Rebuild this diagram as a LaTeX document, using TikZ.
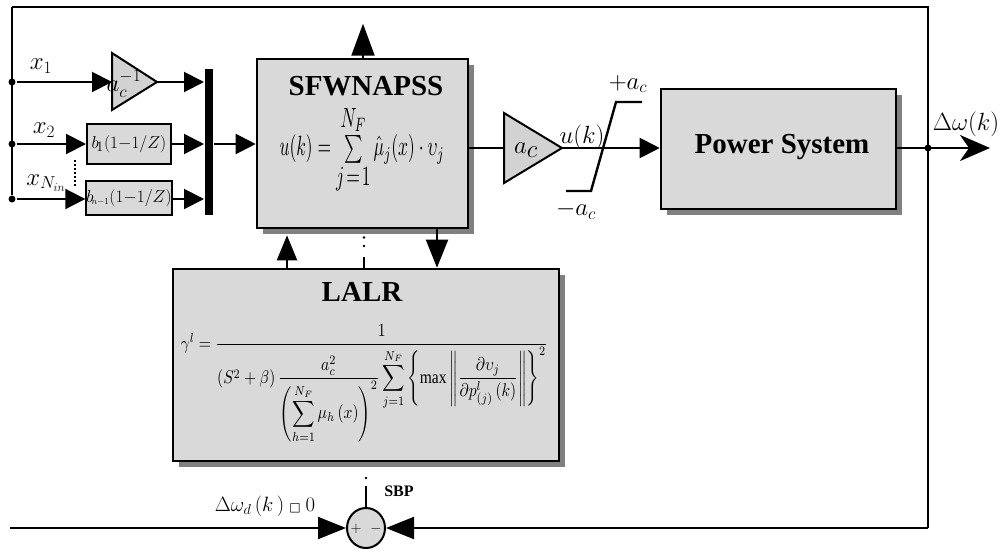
\documentclass[tikz,border=0pt]{standalone}
\usepackage{amsmath}
\usepackage{fontspec}
\setmainfont{Liberation Serif}
\newfontfamily\dvs{DejaVu Sans}
\usetikzlibrary{arrows.meta,shapes.geometric,shadows}
\definecolor{boxgray}{RGB}{217,217,217}
\definecolor{shadowgray}{RGB}{128,128,128}
\definecolor{trigray}{RGB}{210,210,210}
\begin{document}
\begin{tikzpicture}[x=1pt,y=-1pt,line width=2pt,
  box/.style={draw=black,line width=2.6pt,fill=boxgray,inner sep=0pt,
    drop shadow={shadow xshift=6pt,shadow yshift=-6pt,fill=shadowgray,opacity=1}},
  smallbox/.style={draw=black,line width=2pt,fill=boxgray,inner sep=0pt,minimum width=84pt},
  ttl/.style={font=\fontsize{29}{30}\selectfont\bfseries,inner sep=0pt},
  lbl/.style={font=\fontsize{24}{26}\selectfont,inner sep=0pt},
  arrA/.style={-{Triangle[length=20pt,width=20pt]}},
  arrB/.style={-{Triangle[length=28pt,width=22pt]}},
  dot/.style={circle,fill=black,inner sep=0pt,minimum size=7pt}]
\useasboundingbox (0,0) rectangle (1008,549);

% main blocks
\node[box,minimum width=211pt,minimum height=169pt] (sf) at (362.5,143.5) {};
\node[ttl] (sft) at (366,86) {SFWNAPSS};
\node[inner sep=0pt] (sfe) at (362,150) {\resizebox*{165pt}{88pt}{$u(k) = \mathop{\textstyle\sum}\limits^{\textstyle N_F}_{\textstyle j\!=\!1}\hat{\mu}_{j}(x)\cdot\upsilon_{j}$}};

\node[box,minimum width=235pt,minimum height=120pt] (ps) at (778.5,149) {};
\node[ttl] (pst) at (782,147) {Power System};

\node[box,minimum width=386pt,minimum height=192pt] (la) at (366,365) {};
\node[ttl] (lat) at (362,292) {LALR};
\node[inner sep=0pt] (lae) at (364.5,384) {\resizebox*{367pt}{118pt}{$\gamma^{l} = \dfrac{1}{\left(S^{2}+\beta\right)\dfrac{a_c^{2}}{\left(\displaystyle\sum_{h=1}^{N_F}\mu_h\left(x\right)\right)^{2}}\displaystyle\sum_{j=1}^{N_F}\left\{\max\left\|\dfrac{\partial\upsilon_j}{\partial p^{l}_{(j)}\left(k\right)}\right\|\right\}^{2}}$}};

% input blocks
\node[smallbox,minimum height=40pt] (b1) at (129,144) {\fontsize{19}{20}\selectfont$b_{\!1}(1{-}1/Z)$};
\node[smallbox,minimum height=34pt] (bn) at (129,198) {\fontsize{18}{19}\selectfont$b_{\!\scriptscriptstyle n{-}1}(1{-}1/Z)$};
\node[fill=black,minimum width=8pt,minimum height=146pt,inner sep=0pt] (bar) at (209,142) {};

% amplifier 1/a_c
\draw[fill=trigray] (112,53) coordinate (t1l) -- (112,110) -- (157,82) coordinate (t1r) -- cycle;
\coordinate (t1in) at (112,82);
\node[lbl] (t1lab) at (124,84) {$a_c^{-1}$};

% amplifier a_c
\draw[fill=trigray] (504,113) -- (504,183) -- (562,148) coordinate (t2r) -- cycle;
\coordinate (t2in) at (504,148);
\node[font=\fontsize{36}{38}\selectfont,inner sep=0pt] (t2lab) at (526,150) {$a_c$};

% input dots
\node[dot] (d1) at (12,82) {};
\node[dot] (d2) at (12,144) {};
\node[dot] (d3) at (12,199) {};
\coordinate (tl) at (12,7);
\coordinate (tr) at (928,7);
\coordinate (br) at (928,528);
\node[dot] (dout) at (928,148) {};
\coordinate (outend) at (990,148);

\draw (tl) -- (d3);
\draw (tl) -- (tr) -- (br);
\draw[arrA] (d1) -- (t1in);
\draw[arrA] (d2) -- (b1.west);
\draw[arrA] (d3) -- (bn.west |- d3);
\draw[arrA] (t1r) -- (bar.west |- t1r);
\draw[arrA] (b1.east) -- (bar.west |- b1.east);
\draw[arrA] (bn.east |- d3) -- (bar.west |- d3);
\draw[arrA] (bar.east |- b1) -- (sf.west |- b1);
\draw[dotted,line width=2pt] (75,160) -- (75,187);

\node[lbl] (lx1) at (41,66) {$x_1$};
\node[lbl] (lx2) at (44,130) {$x_2$};
\node[lbl] (lx3) at (46,183) {$x_{N_{in}}$};

% output side
\draw (sf.east |- t2in) -- (t2in);
\coordinate (psin) at (ps.west |- t2r);
\draw[arrA] (t2r) -- (psin);
\draw[line width=2.4pt] (566,191) -- (591,191) -- (616,102) -- (642,102);
\node[lbl] (luk) at (582,137) {$u(k)$};
\node[lbl] (lpa) at (628,84) {$+a_c$};
\node[lbl] (lma) at (576,210) {$-a_c$};
\draw[-{Stealth[length=30pt,width=26pt,inset=9pt]}] (ps.east |- dout) -- (outend);
\node[lbl] (ldw) at (966,124) {$\Delta\omega(k)$};

% arrows between SFWNAPSS and LALR
\coordinate (ca) at (287,0);
\coordinate (cb) at (437,0);
\coordinate (cc) at (363,0);
\coordinate (cm) at (364,0);
\draw[-{Triangle[length=32pt,width=23pt]}] (sf.north -| cc) -- ++(0,-34);
\draw[-{Triangle[length=25pt,width=20pt]},shorten >=6pt] (la.north -| ca) -- (sf.south -| ca);
\draw[arrB] (sf.south -| cb) -- (la.north -| cb);
\draw (la.north -| cm) -- ++(0,-11);
\fill (364,246) circle (1.4pt);
\fill (364,237.5) circle (1.4pt);

% summing junction
\node[draw,ellipse,fill=boxgray,line width=2pt,minimum width=38pt,minimum height=40pt,inner sep=0pt] (sum) at (366,528) {};
\node[font=\fontsize{15}{16}\selectfont,inner sep=0pt] (plus) at (356,529) {$+$};
\node[font=\fontsize{15}{16}\selectfont,inner sep=0pt] (minus) at (376,529) {$-$};
\coordinate (inl) at (10,528);
\draw[arrB] (inl) -- (sum.west);
\draw[arrB] (br) -- (sum.east);
\draw (sum.north) -- ++(0,-21);
\fill (366,478) circle (1.4pt);
\node[font=\fontsize{16}{17}\selectfont\bfseries,inner sep=0pt] (sbp) at (399,491) {SBP};
\node[font=\fontsize{20}{22}\selectfont,inner sep=0pt] (ref) at (265,506) {$\Delta\omega_d\,(k\,)$ {\dvs\fontsize{12}{12}\selectfont □} $0$};
\end{tikzpicture}
\end{document}
